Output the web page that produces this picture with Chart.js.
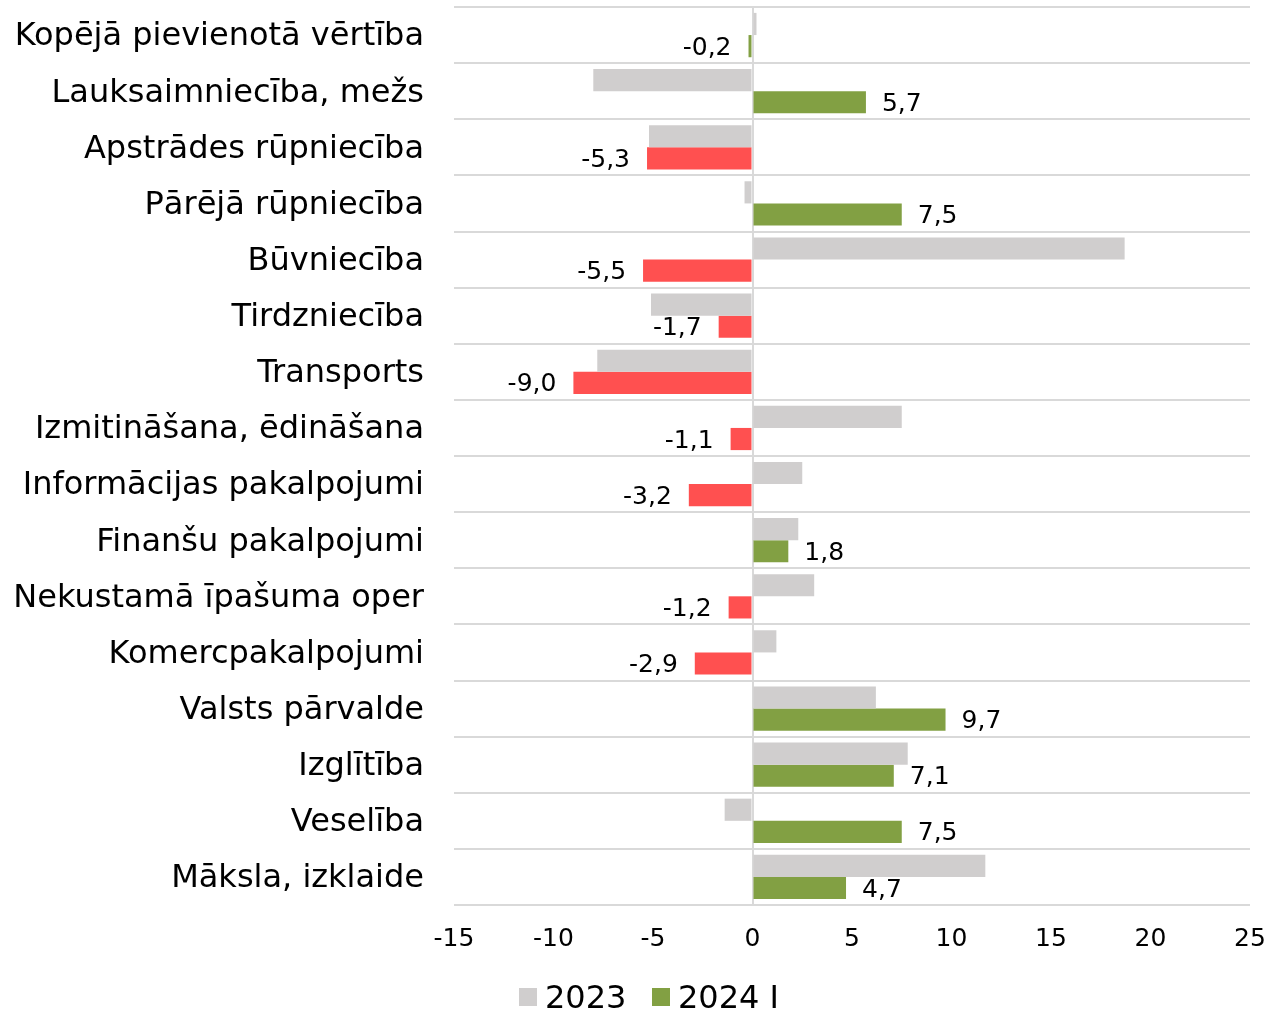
<!DOCTYPE html>
<html><head><meta charset="utf-8">
<script src="https://cdn.jsdelivr.net/npm/chart.js@4/dist/chart.umd.min.js"></script>
<style>
html,body{margin:0;padding:0;background:#fff}
#wrap{position:relative;width:1271px;height:1011px}
#legend{position:absolute;left:0;top:977px;width:1271px;height:40px;font-family:"DejaVu Sans",Verdana,sans-serif;font-size:32px;color:#000;line-height:40px}
#legend .item{position:absolute;top:0;white-space:nowrap}
#legend .box{display:inline-block;width:18px;height:18px;margin-right:8px;vertical-align:middle;position:relative;top:-2px}
</style>
</head><body><div id="wrap"><canvas id="c" width="1271" height="1011"></canvas>
<div id="legend"></div></div>
<script>
const categories = ["Kopējā pievienotā vērtība","Lauksaimniecība, mežs","Apstrādes rūpniecība","Pārējā rūpniecība","Būvniecība","Tirdzniecība","Transports","Izmitināšana, ēdināšana","Informācijas pakalpojumi","Finanšu pakalpojumi","Nekustamā īpašuma oper","Komercpakalpojumi","Valsts pārvalde","Izglītība","Veselība","Māksla, izklaide"];
const values2023 = [0.2,-8.0,-5.2,-0.4,18.7,-5.1,-7.8,7.5,2.5,2.3,3.1,1.2,6.2,7.8,-1.4,11.7];
const values2024 = [-0.2,5.7,-5.3,7.5,-5.5,-1.7,-9.0,-1.1,-3.2,1.8,-1.2,-2.9,9.7,7.1,7.5,4.7];
const seriesNames = ["2023","2024 I"];
const GREY='#d0cece', GREEN='#82a043', RED='#ff5050';
const FONT='"DejaVu Sans", Verdana, sans-serif';
// first category (total) keeps the series colour; sectoral declines are red
const colors2024 = values2024.map((v,i)=> (i>0 && v<0) ? RED : GREEN);

const labelPlugin = {
  id:'vlabels',
  afterDatasetsDraw(chart){
    const ctx=chart.ctx; const meta=chart.getDatasetMeta(1);
    ctx.save(); ctx.font='25px '+FONT; ctx.fillStyle='#000'; ctx.textBaseline='middle';
    meta.data.forEach((el,i)=>{
      const v=values2024[i]; const txt=v.toFixed(1).replace('.',',');
      if(v>=0){ctx.textAlign='left'; ctx.fillText(txt, el.x+16, el.y+2);}
      else {ctx.textAlign='right'; ctx.fillText(txt, el.x-17, el.y+2);}
    });
    ctx.restore();
  }
};

const chart = new Chart(document.getElementById('c'),{
  type:'bar',
  data:{labels:categories,datasets:[
    {label:seriesNames[0],data:values2023,backgroundColor:GREY,categoryPercentage:0.79,barPercentage:1.0},
    {label:seriesNames[1],data:values2024,backgroundColor:colors2024,categoryPercentage:0.79,barPercentage:1.0}
  ]},
  options:{
    indexAxis:'y',responsive:false,animation:false,
    layout:{padding:{top:7,right:21,bottom:57,left:0}},
    scales:{
      x:{min:-15,max:25,ticks:{stepSize:5,color:'#000',font:{family:FONT,size:25},padding:0},
         grid:{drawTicks:true,tickLength:19,tickColor:'rgba(0,0,0,0)',lineWidth:2,color:(c)=>c.tick&&c.tick.value===0?'#d9d9d9':'rgba(0,0,0,0)'},border:{display:false},
         afterFit(s){s.paddingLeft=0;s.paddingRight=0;}},
      y:{ticks:{color:'#000',font:{family:FONT,size:32},padding:0,autoSkip:false,labelOffset:2},
         grid:{offset:true,drawTicks:true,tickLength:30,tickColor:'rgba(0,0,0,0)',lineWidth:2,color:'#d9d9d9'},border:{display:false},
         afterFit(s){s.width=454;s.paddingTop=0;s.paddingBottom=0;}}
    },
    plugins:{legend:{display:false},tooltip:{enabled:false}}
  },
  plugins:[labelPlugin]
});

// legend as real text
const legendEl=document.getElementById('legend');
const legendX=[519,652];
seriesNames.forEach((n,i)=>{
  const it=document.createElement('span'); it.className='item'; it.style.left=legendX[i]+'px';
  const b=document.createElement('span'); b.className='box'; b.style.background=i===0?GREY:GREEN;
  it.appendChild(b); it.appendChild(document.createTextNode(n)); legendEl.appendChild(it);
});
</script></body></html>
